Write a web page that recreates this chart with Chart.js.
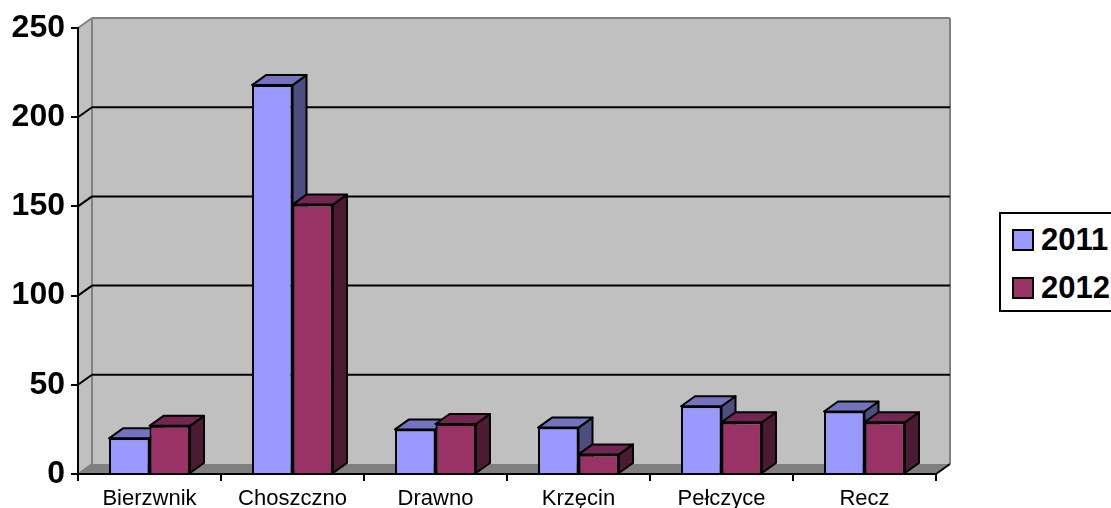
<!DOCTYPE html>
<html>
<head>
<meta charset="utf-8">
<script src="https://cdn.jsdelivr.net/npm/chart.js@4"></script>
<style>
  html, body { margin: 0; padding: 0; background: #fff; overflow: hidden; }
  #wrap { position: relative; width: 1111px; height: 508px; overflow: hidden; }
  #legend { position: absolute; left: 999px; top: 212px; width: 130px; height: 96px; border: 2px solid #000; background: #fff;
    font: bold 31px "Liberation Sans", Arial, sans-serif; color: #000; }
  #legend div { position: absolute; left: 40px; line-height: 32px; white-space: nowrap; }
  #legend i { position: absolute; left: -29px; top: 5px; width: 18px; height: 18px; border: 2px solid #000; }
</style>
</head>
<body>
<div id="wrap">
  <canvas id="chart" width="1111" height="508"></canvas>
  <div id="legend"></div>
</div>
<script>
const categories = ['Bierzwnik', 'Choszczno', 'Drawno', 'Krzęcin', 'Pełczyce', 'Recz'];
const values2011 = [20, 218, 25, 26, 38, 35];
const values2012 = [27, 151, 28, 11, 29, 29];
const yTicks = [0, 50, 100, 150, 200, 250];

// depth of the fake 3d box, in pixels
const DX = 14;
const DY = 10;

function poly(ctx, pts, fill, stroke, lw) {
  ctx.beginPath();
  pts.forEach((p, i) => i ? ctx.lineTo(p[0], p[1]) : ctx.moveTo(p[0], p[1]));
  ctx.closePath();
  if (fill) { ctx.fillStyle = fill; ctx.fill(); }
  if (stroke) { ctx.strokeStyle = stroke; ctx.lineWidth = lw; ctx.lineJoin = 'round'; ctx.stroke(); }
}

function line(ctx, x1, y1, x2, y2, color, lw) {
  ctx.beginPath();
  ctx.moveTo(x1, y1);
  ctx.lineTo(x2, y2);
  ctx.strokeStyle = color;
  ctx.lineWidth = lw;
  ctx.stroke();
}

// back wall, side wall, floor and gridlines
const walls = {
  id: 'walls',
  beforeDraw(chart) {
    const { ctx, chartArea: a, scales: { y } } = chart;
    ctx.save();
    poly(ctx, [[a.left + DX, a.top - DY], [a.right + DX, a.top - DY], [a.right + DX, a.bottom - DY], [a.left + DX, a.bottom - DY]], '#c0c0c0');
    poly(ctx, [[a.left, a.top], [a.left + DX, a.top - DY], [a.left + DX, a.bottom - DY], [a.left, a.bottom]], '#c0c0c0');
    poly(ctx, [[a.left, a.bottom], [a.left + DX, a.bottom - DY], [a.right + DX, a.bottom - DY], [a.right, a.bottom]], '#808080');
    line(ctx, a.left + DX, a.bottom - DY, a.left + DX, a.top - DY, '#808080', 2);
    line(ctx, a.left + DX, a.top - DY, a.right + DX, a.top - DY, '#808080', 2);
    line(ctx, a.right + DX, a.top - DY, a.right + DX, a.bottom - DY, '#808080', 2);
    line(ctx, a.left, a.top, a.left + DX, a.top - DY, '#808080', 2);
    yTicks.forEach(v => {
      const py = y.getPixelForValue(v);
      if (v > 0 && v < 250) {
        line(ctx, a.left, py, a.left + DX, py - DY, '#000', 2);
        line(ctx, a.left + DX, py - DY, a.right + DX, py - DY, '#000', 2);
      }
    });
    line(ctx, a.left, a.bottom, a.left + DX, a.bottom - DY, '#808080', 2);
    line(ctx, a.right, a.bottom, a.right + DX, a.bottom - DY, '#000', 2);
    ctx.restore();
  },
  // top and side faces go under the front faces the library draws
  beforeDatasetsDraw(chart) {
    const { ctx } = chart;
    ctx.save();
    chart.data.datasets.forEach((ds, i) => {
      chart.getDatasetMeta(i).data.forEach(bar => {
        const l = bar.x - bar.width / 2, r = bar.x + bar.width / 2, t = bar.y, b = bar.base;
        poly(ctx, [[r, t], [r + DX, t - DY], [r + DX, b - DY], [r, b]], ds.sideColor, '#000', 2);
        poly(ctx, [[l, t], [l + DX, t - DY], [r + DX, t - DY], [r, t]], ds.topColor, '#000', 2);
      });
    });
    ctx.restore();
  }
};

new Chart(document.getElementById('chart'), {
  type: 'bar',
  data: {
    labels: categories,
    datasets: [
      { label: '2011', data: values2011, backgroundColor: '#9999ff', topColor: '#7373bf', sideColor: '#4d4d80', borderColor: '#000', borderWidth: 2 },
      { label: '2012', data: values2012, backgroundColor: '#993366', topColor: '#732650', sideColor: '#4d1a33', borderColor: '#000', borderWidth: 2 }
    ]
  },
  options: {
    responsive: false,
    animation: false,
    devicePixelRatio: 1,
    layout: { autoPadding: false, padding: { top: 28, right: 175, bottom: 0, left: 0 } },
    categoryPercentage: 0.566,
    barPercentage: 1,
    plugins: { legend: { display: false }, tooltip: { enabled: false } },
    scales: {
      x: {
        afterFit(s) { s.height = 34; },
        grid: { drawOnChartArea: false, color: '#000', lineWidth: 2, tickLength: 7 },
        border: { color: '#000', width: 2 },
        ticks: { color: '#000', padding: 5, maxRotation: 0, font: { family: '"Liberation Sans", Arial, sans-serif', size: 22 } }
      },
      y: {
        min: 0,
        max: 250,
        afterFit(s) { s.width = 78; },
        afterBuildTicks(s) { s.ticks = yTicks.map(v => ({ value: v })); },
        grid: { drawOnChartArea: false, color: '#000', lineWidth: 2, tickLength: 7 },
        border: { color: '#000', width: 2 },
        ticks: { color: '#000', padding: 6, font: { family: '"Liberation Sans", Arial, sans-serif', size: 32, weight: 'bold' } }
      }
    }
  },
  plugins: [walls]
});

// legend box
const legend = document.getElementById('legend');
[['2011', '#9999ff', 10], ['2012', '#993366', 58]].forEach(([name, color, top]) => {
  const row = document.createElement('div');
  row.style.top = top + 'px';
  row.innerHTML = '<i style="background:' + color + '"></i>' + name;
  legend.appendChild(row);
});
</script>
</body>
</html>
